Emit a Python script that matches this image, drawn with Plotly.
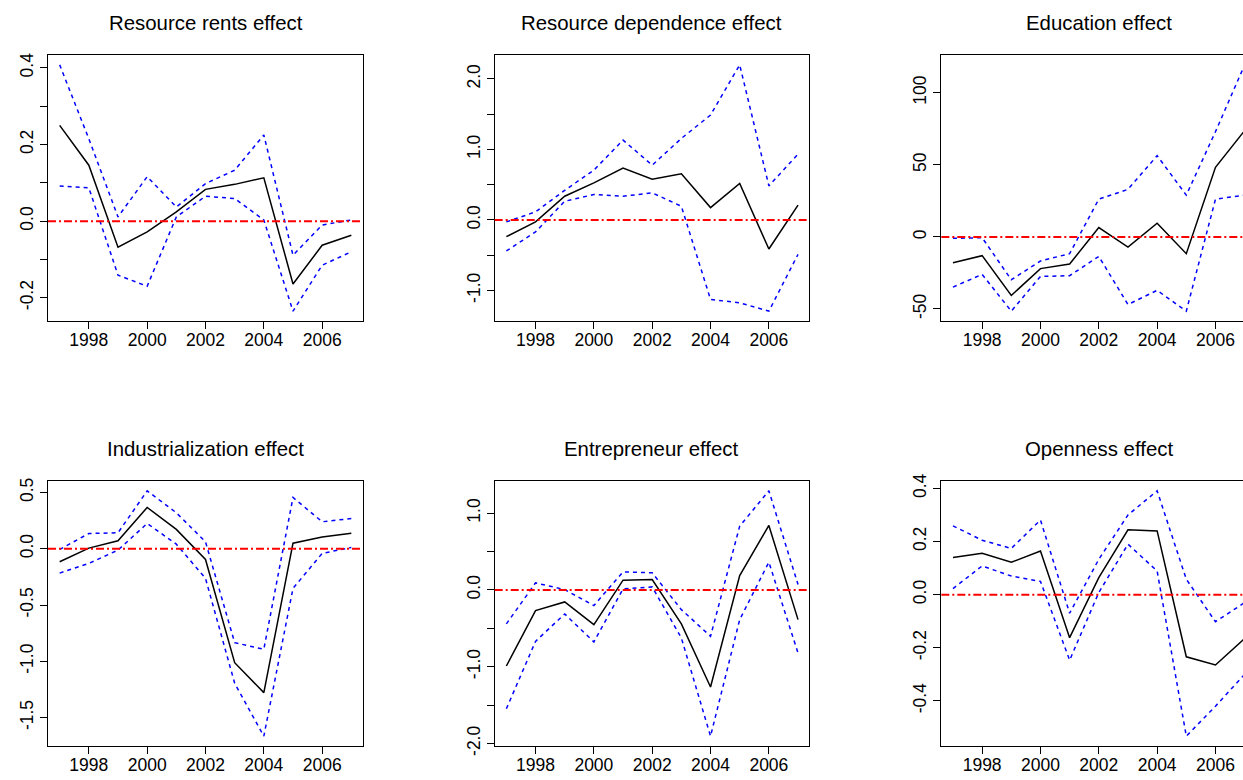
import plotly.graph_objects as go

years = [1997, 1998, 1999, 2000, 2001, 2002, 2003, 2004, 2005, 2006, 2007]

titles = ["Resource rents effect", "Resource dependence effect", "Education effect",
          "Industrialization effect", "Entrepreneur effect", "Openness effect"]

rents_est = [0.25, 0.146, -0.068, -0.028, 0.024, 0.083, 0.096, 0.113, -0.164, -0.063, -0.037]
rents_up = [0.408, 0.215, 0.011, 0.116, 0.037, 0.098, 0.133, 0.225, -0.089, -0.01, 0.003]
rents_lo = [0.092, 0.087, -0.141, -0.17, 0.011, 0.065, 0.059, 0.003, -0.235, -0.115, -0.08]

dep_est = [-0.237, -0.028, 0.336, 0.526, 0.735, 0.578, 0.654, 0.175, 0.517, -0.412, 0.209]
dep_up = [-0.028, 0.114, 0.42, 0.706, 1.133, 0.777, 1.156, 1.488, 2.2, 0.483, 0.934]
dep_lo = [-0.44, -0.17, 0.265, 0.36, 0.336, 0.384, 0.194, -1.128, -1.175, -1.294, -0.488]

edu_est = [-17.9, -13.0, -40.6, -22.0, -18.8, 6.5, -7.0, 9.5, -11.6, 48.3, 73.8]
edu_up = [-1.0, -0.5, -29.7, -16.7, -11.6, 26.2, 33.0, 56.4, 29.0, 73.0, 119.4]
edu_lo = [-34.8, -26.0, -51.5, -27.4, -26.9, -13.5, -46.9, -37.1, -51.5, 26.2, 29.0]

ind_est = [-0.115, 0.006, 0.071, 0.367, 0.172, -0.095, -1.012, -1.278, 0.05, 0.104, 0.139]
ind_up = [-0.006, 0.136, 0.142, 0.515, 0.32, 0.062, -0.834, -0.893, 0.456, 0.24, 0.269]
ind_lo = [-0.216, -0.13, -0.012, 0.225, 0.041, -0.263, -1.195, -1.665, -0.352, -0.041, 0.012]

ent_est = [-0.991, -0.27, -0.157, -0.452, 0.126, 0.135, -0.443, -1.265, 0.187, 0.839, -0.387]
ent_up = [-0.443, 0.091, 0.004, -0.204, 0.235, 0.222, -0.257, -0.604, 0.83, 1.29, 0.07]
ent_lo = [-1.548, -0.67, -0.313, -0.678, 0.013, 0.039, -0.626, -1.905, -0.387, 0.361, -0.822]

open_est = [0.14, 0.156, 0.122, 0.164, -0.162, 0.064, 0.244, 0.24, -0.234, -0.265, -0.165]
open_up = [0.259, 0.205, 0.174, 0.281, -0.07, 0.133, 0.3, 0.391, 0.058, -0.102, -0.03]
open_lo = [0.023, 0.108, 0.07, 0.05, -0.247, 0.008, 0.19, 0.089, -0.533, -0.42, -0.3]

x_ticks = [1998, 2000, 2002, 2004, 2006]

# y tick positions and their labels (blank where a label is skipped)
y_ticks = [
    ([-0.2, -0.1, 0.0, 0.1, 0.2, 0.3, 0.4], ["-0.2", "", "0.0", "", "0.2", "", "0.4"]),
    ([-1.0, -0.5, 0.0, 0.5, 1.0, 1.5, 2.0], ["-1.0", "", "0.0", "", "1.0", "", "2.0"]),
    ([-50, 0, 50, 100], ["-50", "0", "50", "100"]),
    ([-1.5, -1.0, -0.5, 0.0, 0.5], ["-1.5", "-1.0", "-0.5", "0.0", "0.5"]),
    ([-2.0, -1.5, -1.0, -0.5, 0.0, 0.5, 1.0], ["-2.0", "", "-1.0", "", "0.0", "", "1.0"]),
    ([-0.4, -0.2, 0.0, 0.2, 0.4], ["-0.4", "-0.2", "0.0", "0.2", "0.4"]),
]

series = [
    (rents_est, rents_up, rents_lo),
    (dep_est, dep_up, dep_lo),
    (edu_est, edu_up, edu_lo),
    (ind_est, ind_up, ind_lo),
    (ent_est, ent_up, ent_lo),
    (open_est, open_up, open_lo),
]

W, H = 1243, 780
# panel boxes in pixels; the third column runs past the right edge of the page
col_px = [(48.0, 363.0), (494.7, 809.0), (941.3, None)]
row_px = [(55.0, 321.0), (481.0, 746.0)]
px_per_year = (363.0 - 48.0) / 10.8

FONT = "Liberation Sans, Arial, Helvetica, sans-serif"
TICK_SIZE = 17.5
TITLE_SIZE = 20.4

fig = go.Figure()
layout = dict(
    width=W, height=H, margin=dict(l=0, r=0, t=0, b=0, autoexpand=False),
    paper_bgcolor="white", plot_bgcolor="white", showlegend=False,
    font=dict(family=FONT, size=TICK_SIZE, color="black"),
)
annotations = []
shapes = []

for i, (est, up, lo) in enumerate(series):
    r, c = divmod(i, 3)
    n = i + 1
    xa = "x" if n == 1 else f"x{n}"
    ya = "y" if n == 1 else f"y{n}"
    left, right = col_px[c]
    clipped = right is None
    if clipped:
        right = W
    x_dom = [left / W, right / W]
    top, bot = row_px[r]
    y_dom = [1 - bot / H, 1 - top / H]

    x0 = 1996.6
    x1 = x0 + (right - left) / px_per_year

    # 4% padding around the data, as in base R graphics
    all_vals = est + up + lo
    lo_v, hi_v = min(all_vals), max(all_vals)
    pad = 0.04 * (hi_v - lo_v)

    for vals in (up, lo):
        fig.add_trace(go.Scatter(
            x=years, y=vals, mode="lines", xaxis=xa, yaxis=ya,
            line=dict(color="#0000ff", width=1.5, dash="4px,4px"),
            hoverinfo="skip",
        ))
    fig.add_trace(go.Scatter(
        x=years, y=est, mode="lines", xaxis=xa, yaxis=ya,
        line=dict(color="black", width=1.5), hoverinfo="skip",
    ))

    # horizontal reference line at zero
    shapes.append(dict(
        type="line", xref=f"{xa} domain", yref=ya, x0=0, x1=1, y0=0, y1=0,
        line=dict(color="#ff0000", width=2, dash="8px,3px,2px,3px"), layer="above",
    ))

    axis_common = dict(
        showgrid=False, zeroline=False, showline=True, linecolor="black", linewidth=1,
        ticks="outside", ticklen=7, tickwidth=1, tickcolor="black", automargin=False,
        tickfont=dict(family=FONT, size=TICK_SIZE, color="black"),
    )
    layout["xaxis" if n == 1 else f"xaxis{n}"] = dict(
        axis_common, domain=x_dom, range=[x0, x1], anchor=ya,
        tickmode="array", tickvals=x_ticks, ticktext=[str(t) for t in x_ticks],
        mirror=True, ticklabelstandoff=-4,
    )
    tv, tt = y_ticks[i]
    layout["yaxis" if n == 1 else f"yaxis{n}"] = dict(
        axis_common, domain=y_dom, range=[lo_v - pad, hi_v + pad], anchor=xa,
        tickmode="array", tickvals=tv, ticktext=tt, tickangle=-90,
        mirror=(not clipped), ticklabelstandoff=0,
    )

    annotations.append(dict(
        text=titles[i], xref="paper", yref="paper",
        x=(left + (col_px[c][1] if col_px[c][1] else left + 315.0)) / 2 / W,
        y=1 - (top - 32) / H, xanchor="center", yanchor="middle", showarrow=False,
        font=dict(family=FONT, size=TITLE_SIZE, color="black"),
    ))

layout["annotations"] = annotations
layout["shapes"] = shapes
fig.update_layout(**layout)
fig.write_html("out.html")
